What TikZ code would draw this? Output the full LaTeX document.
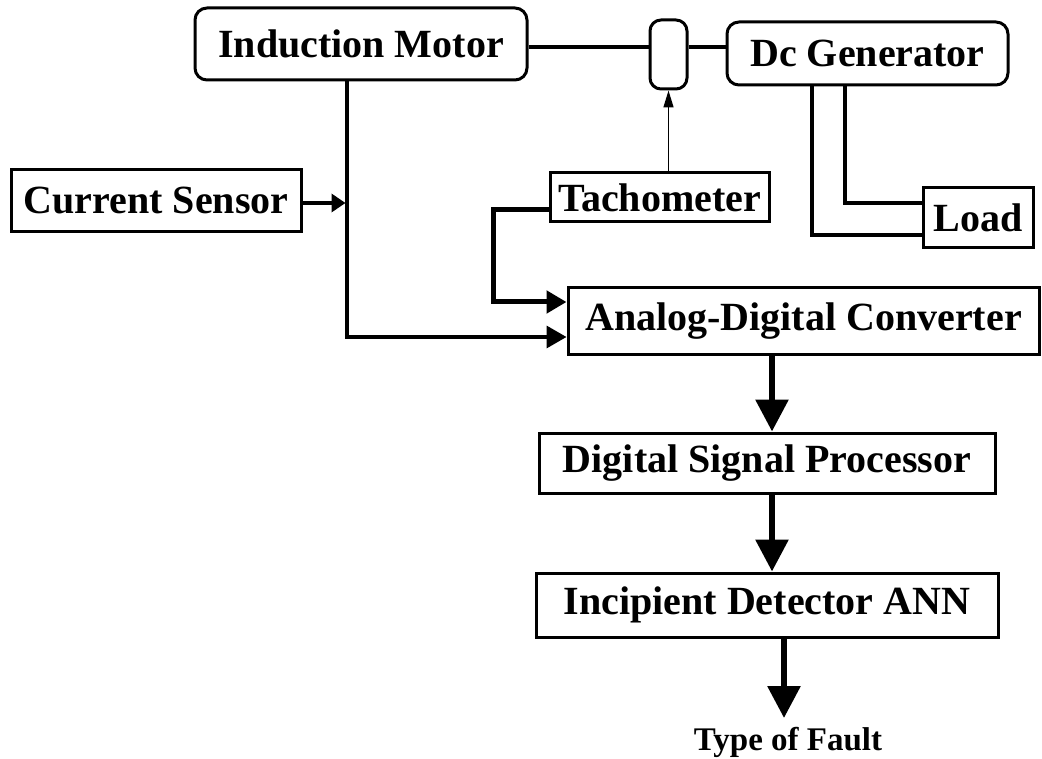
\documentclass[tikz,border=0pt]{standalone}
\usepackage{fontspec}
\setmainfont{Liberation Serif}
\usetikzlibrary{arrows.meta}
\begin{document}
\begin{tikzpicture}[x=1pt,y=-1pt,
  box/.style={draw=black,line width=3pt,fill=white,inner sep=0pt,
    font=\fontsize{40}{44}\selectfont\bfseries},
  rbox/.style={box,rounded corners=12pt},
  conn/.style={line width=3.5pt},
  smallarrow/.style={conn,-{Triangle[length=14pt,width=18pt]}},
  medarrow/.style={conn,-{Triangle[length=20pt,width=22pt]}},
  thinarrow/.style={line width=1.5pt,-{Triangle[length=17pt,width=10pt]}},
  bigarrow/.style={line width=6pt,-{Triangle[length=32pt,width=32pt]}}]
\useasboundingbox (0,0) rectangle (1042,759);
% nodes
\node[rbox,minimum width=332pt,minimum height=72pt] (motor) at (361,44) {Induction Motor};
\node[rbox,rounded corners=11pt,minimum width=37pt,minimum height=69pt] (coupler) at (668.5,54.5) {};
\node[rbox,minimum width=281pt,minimum height=63pt] (gen) at (867.5,53.5) {Dc Generator};
\node[box,minimum width=290pt,minimum height=62pt] (cs) at (156,201) {Current Sensor};
\node[box,minimum width=219pt,minimum height=49pt] (tach) at (659.5,197.5) {Tachometer};
\node[box,minimum width=110pt,minimum height=60pt] (load) at (978,218) {Load};
\node[box,minimum width=471pt,minimum height=67pt] (adc) at (803.5,321.5) {Analog-Digital Converter};
\node[box,minimum width=456pt,minimum height=60pt] (dsp) at (767,463) {Digital Signal Processor};
\node[box,minimum width=462pt,minimum height=64pt] (ida) at (767,605) {Incipient Detector ANN};
\node[font=\fontsize{33}{36}\selectfont\bfseries,inner sep=0pt] (fault) at (788,742) {Type of Fault};
% helper coordinates
\coordinate (shaft) at (0,47);
\coordinate (mx) at (347,0);
\coordinate (tx) at (493,0);
\coordinate (g1) at (812,0);
\coordinate (g2) at (845,0);
\coordinate (ax) at (772,0);
\coordinate (tip) at (784,718);
% shaft line
\draw[conn] (motor.east |- shaft) -- (coupler.west |- shaft);
\draw[conn] (coupler.east |- shaft) -- (gen.west |- shaft);
% motor to ADC
\draw[medarrow] (motor.south -| mx) |- ([yshift=-15.5pt]adc.west);
% current sensor to line
\draw[smallarrow] ([yshift=-2pt]cs.east) -- ([yshift=-2pt,xshift=-1.5pt]cs.east -| mx);
% tachometer to ADC
\draw[line width=5pt,-{Triangle[length=20pt,width=22pt]}] ([yshift=-12.5pt]tach.west) -- ([yshift=-12.5pt]tach.west -| tx) |- ([yshift=19.5pt]adc.west);
% tachometer to coupler
\draw[thinarrow] (coupler.south |- tach.north) -- (coupler.south);
% generator to load
\draw[conn] (gen.south -| g1) |- ([yshift=-17pt]load.west);
\draw[conn] (gen.south -| g2) |- ([yshift=15pt]load.west);
% processing chain
\draw[bigarrow] (adc.south -| ax) -- (dsp.north -| ax);
\draw[bigarrow] (dsp.south -| ax) -- (ida.north -| ax);
\draw[bigarrow] (ida.south -| tip) -- (tip);
\end{tikzpicture}
\end{document}
